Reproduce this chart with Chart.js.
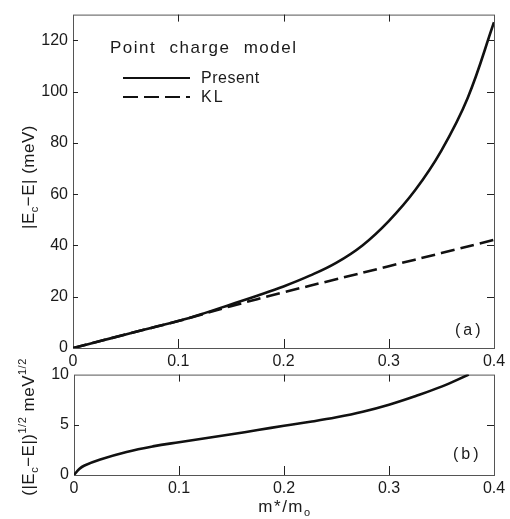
<!DOCTYPE html>
<html>
<head>
<meta charset="utf-8">
<script src="https://cdn.jsdelivr.net/npm/chart.js@4.4.1/dist/chart.umd.min.js"></script>
<style>
  body { margin: 0; background: #fff; width: 510px; height: 519px; position: relative; overflow: hidden;
         font-family: 'Liberation Sans', Arial, sans-serif; color: #1a1a1a; }
  canvas { position: absolute; left: 0; }
  #chartA { top: 0; }
  #chartB { top: 360px; }
  .t { position: absolute; white-space: nowrap; font-size: 16px; line-height: 1; }
  .rot { transform: translate(-50%, -50%) rotate(-90deg); font-size: 17px; letter-spacing: 0.5px; }
  .t sub { font-size: 11px; vertical-align: -4px; }
  .t sup { font-size: 11px; vertical-align: 8px; }
  .key { position: absolute; height: 0; width: 67px; left: 123px; }
  .solid { border-top: 2px solid #111; }
  .dash { height: 2px; background: repeating-linear-gradient(90deg, #111 0 15px, transparent 15px 21px); }
</style>
</head>
<body>
<canvas id="chartA" width="510" height="370"></canvas>
<canvas id="chartB" width="510" height="159"></canvas>

<div class="t rot" style="left:30px;top:177px">|E<sub>c</sub>&minus;E| (meV)</div>
<div class="t rot" style="left:28px;top:427px">(|E<sub>c</sub>&minus;E|)<sup>1/2</sup> meV<sup>1/2</sup></div>
<div class="t" style="left:285px;top:508px;transform:translate(-50%,-50%);font-size:17px;letter-spacing:1.5px">m*/m<sub>o</sub></div>

<div class="t" style="left:110px;top:39px;font-size:17px;letter-spacing:1.5px;word-spacing:7px">Point charge model</div>
<div class="key solid" style="top:77px"></div>
<div class="key dash" style="top:96px"></div>
<div class="t" style="left:201px;top:70px;letter-spacing:0.5px">Present</div>
<div class="t" style="left:201px;top:89px;letter-spacing:2px">KL</div>
<div class="t" style="left:455px;top:322px;letter-spacing:3px">(a)</div>
<div class="t" style="left:453px;top:446px;letter-spacing:3px">(b)</div>

<script>
// panel (a): |Ec - E| in meV against m*/m0
const xPresent = [0, 0.025, 0.05, 0.075, 0.1, 0.125, 0.15, 0.175, 0.2, 0.225, 0.25, 0.275, 0.3, 0.325, 0.35, 0.375, 0.4];
const yPresent = [0, 2.6, 5.3, 7.9, 10.5, 13.6, 17, 20.4, 24, 28.2, 33.2, 40, 49.5, 61.5, 77, 97.5, 127];
const xKL = [0, 0.05, 0.1, 0.15, 0.2, 0.25, 0.3, 0.35, 0.4];
const yKL = [0, 5.3, 10.5, 16.3, 21.7, 26.8, 31.9, 37, 42.2];

// panel (b): square root of the same energy
const xRoot = [0, 0.005, 0.01, 0.025, 0.05, 0.075, 0.1, 0.125, 0.15, 0.175, 0.2, 0.225, 0.25, 0.275, 0.3, 0.325, 0.35, 0.376];
const yRoot = [0, 0.6, 0.95, 1.55, 2.3, 2.85, 3.27, 3.66, 4.05, 4.48, 4.9, 5.3, 5.75, 6.3, 7.0, 7.85, 8.8, 10];

const xTicks = [0, 0.1, 0.2, 0.3, 0.4];
const yTicksA = [0, 20, 40, 60, 80, 100, 120];
const yTicksB = [0, 5, 10];

const tickFont = { family: "'Liberation Sans', Arial, sans-serif", size: 16 };
const ink = '#1a1a1a';

function pts(xs, ys) {
  return xs.map((x, i) => ({ x: x, y: ys[i] }));
}

// box round the plot and short ticks pointing inwards on all four sides
const frame = {
  id: 'frame',
  beforeDatasetsDraw(chart) {
    const { ctx, chartArea: a, scales: { x, y } } = chart;
    ctx.save();
    ctx.strokeStyle = '#555';
    ctx.lineWidth = 1;
    ctx.strokeRect(a.left + 0.5, a.top + 0.5, a.right - a.left, a.bottom - a.top);
    ctx.strokeStyle = '#222';
    ctx.beginPath();
    x.ticks.forEach(t => {
      const px = Math.round(x.getPixelForValue(t.value)) + 0.5;
      if (px < a.left + 2 || px > a.right - 2) return;
      ctx.moveTo(px, a.bottom); ctx.lineTo(px, a.bottom - 9);
      ctx.moveTo(px, a.top); ctx.lineTo(px, a.top + 7);
    });
    y.ticks.forEach(t => {
      const py = Math.round(y.getPixelForValue(t.value)) + 0.5;
      if (py < a.top + 2 || py > a.bottom - 2) return;
      ctx.moveTo(a.left, py); ctx.lineTo(a.left + 5, py);
      ctx.moveTo(a.right, py); ctx.lineTo(a.right - 7, py);
    });
    ctx.stroke();
    ctx.restore();
  }
};

function xScale(h) {
  return {
    type: 'linear', min: 0, max: 0.4,
    afterBuildTicks: s => { s.ticks = xTicks.map(v => ({ value: v })); },
    afterFit: s => { s.height = h; },
    grid: { display: false, drawTicks: false },
    border: { display: false },
    ticks: { padding: 4, font: tickFont, color: ink, maxRotation: 0,
             callback: v => v === 0 ? '0' : v.toFixed(1) }
  };
}

function yScale(max, ticks, w) {
  return {
    min: 0, max: max,
    afterBuildTicks: s => { s.ticks = ticks.map(v => ({ value: v })); },
    afterFit: s => { s.width = w; },
    grid: { display: false, drawTicks: false },
    border: { display: false },
    ticks: { padding: 5, font: tickFont, color: ink }
  };
}

const lineStyle = { borderColor: '#111', borderWidth: 2.6, pointRadius: 0, fill: false, tension: 0.4 };

new Chart(document.getElementById('chartA'), {
  type: 'line',
  data: {
    datasets: [
      Object.assign({ label: 'Present', data: pts(xPresent, yPresent) }, lineStyle),
      Object.assign({ label: 'KL', data: pts(xKL, yKL), borderDash: [14, 6] }, lineStyle)
    ]
  },
  options: {
    responsive: false, animation: false,
    layout: { padding: { top: 13, right: 16, left: 0, bottom: 0 } },
    plugins: { legend: { display: false }, tooltip: { enabled: false } },
    scales: { x: xScale(22), y: yScale(130, yTicksA, 73) }
  },
  plugins: [frame]
});

new Chart(document.getElementById('chartB'), {
  type: 'line',
  data: {
    datasets: [
      Object.assign({ label: 'Present', data: pts(xRoot, yRoot) }, lineStyle)
    ]
  },
  options: {
    responsive: false, animation: false,
    layout: { padding: { top: 13, right: 16, left: 0, bottom: 0 } },
    plugins: { legend: { display: false }, tooltip: { enabled: false } },
    scales: { x: xScale(44), y: yScale(10, yTicksB, 74) }
  },
  plugins: [frame]
});
</script>
</body>
</html>
